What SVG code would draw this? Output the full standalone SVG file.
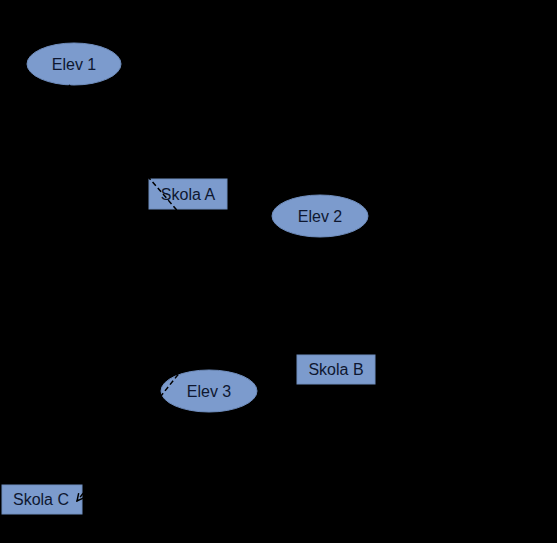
<svg xmlns="http://www.w3.org/2000/svg" width="557" height="543" viewBox="0 0 557 543">
<defs>
<style>
.bg{fill:#000}
.n{fill:#7c9bcd;stroke:#6f8dbd;stroke-width:1}
.t{font-family:"Liberation Sans",Arial,sans-serif;font-size:16px;fill:#0e1730;text-anchor:middle;dominant-baseline:central}
.c{stroke:#000;stroke-width:1.5;fill:none;stroke-dasharray:5 3}
</style>
<marker id="ah" viewBox="0 0 10 10" refX="9" refY="5" markerWidth="6" markerHeight="6" orient="auto" markerUnits="strokeWidth"><path d="M1,1 L9,5 L1,9" fill="none" stroke="#000" stroke-width="1.6"/></marker>
</defs>
<rect class="bg" x="0" y="0" width="557" height="543"/>
<g id="n-elev1"><ellipse class="n" cx="74" cy="64" rx="47" ry="21"/><text class="t" x="74" y="64">Elev 1</text></g>
<g id="n-elev2"><ellipse class="n" cx="320" cy="216" rx="48" ry="21"/><text class="t" x="320" y="216">Elev 2</text></g>
<g id="n-elev3"><ellipse class="n" cx="209" cy="391" rx="48" ry="21"/><text class="t" x="209" y="391">Elev 3</text></g>
<g id="n-skolaA"><rect class="n" x="149" y="179" width="78" height="30"/><text class="t" x="188" y="194">Skola A</text></g>
<g id="n-skolaB"><rect class="n" x="297" y="355" width="78" height="29"/><text class="t" x="336" y="369.5">Skola B</text></g>
<g id="n-skolaC"><rect class="n" x="2" y="485" width="80" height="29"/><text class="t" x="41" y="499.5">Skola C</text></g>
<g id="connectors">
<line class="c" x1="69" y1="85" x2="300" y2="353"/>
<line class="c" x1="288" y1="237" x2="77" y2="501" marker-end="url(#ah)"/>
</g>
</svg>
